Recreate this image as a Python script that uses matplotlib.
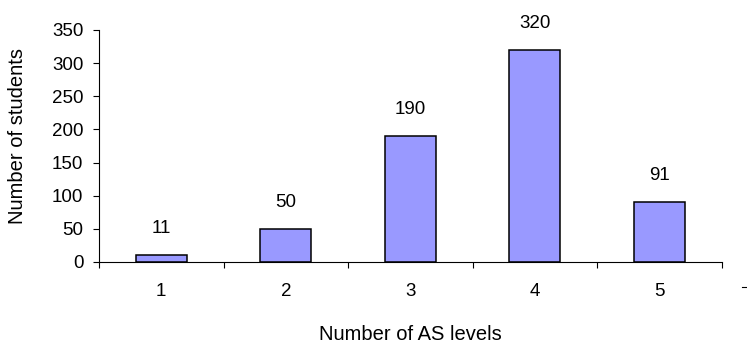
import matplotlib
matplotlib.use('Agg')
import matplotlib.pyplot as plt
from matplotlib.lines import Line2D

plt.rcParams['font.family'] = ['Liberation Sans', 'DejaVu Sans']

# number of AS levels taken vs number of students
levels = [1, 2, 3, 4, 5]
students = [11, 50, 190, 320, 91]
yticks = [0, 50, 100, 150, 200, 250, 300, 350]

fs = 13.5
W, H = 747, 342

fig = plt.figure(figsize=(W / 100, H / 100), dpi=100)
ax = fig.add_axes([99 / W, 80 / H, 622.7 / W, 232 / H])

ax.bar(levels, students, width=0.41, color='#9999FF', edgecolor='black', linewidth=1.1)
for x, v in zip(levels, students):
    ax.annotate(str(v), (x, v), xytext=(0, 19), textcoords='offset points',
                ha='center', va='center', fontsize=fs)

ax.set_xlim(0.5, 5.5)
ax.set_ylim(0, 350)
ax.set_yticks(yticks)
ax.set_xticks(levels)
ax.set_xticks([0.5, 1.5, 2.5, 3.5, 4.5, 5.5], minor=True)
ax.tick_params(axis='x', which='major', length=0, pad=15, labelsize=fs)
ax.tick_params(axis='x', which='minor', length=4.3, width=0.8, direction='out')
ax.tick_params(axis='y', length=4.3, width=0.8, direction='out', pad=7, labelsize=fs)

for s in ['top', 'right']:
    ax.spines[s].set_visible(False)
for s in ['left', 'bottom']:
    ax.spines[s].set_linewidth(0.8)

# axis titles
fig.text(410 / W, 2.5 / H, 'Number of AS levels', fontsize=14.5,
         ha='center', va='baseline')
fig.text(8 / W, 1 - 136 / H, 'Number of students', fontsize=14.5,
         rotation=90, ha='left', va='center')

# small stray dash at the right edge
fig.add_artist(Line2D([742 / W, 747 / W], [1 - 287 / H, 1 - 287 / H],
                      transform=fig.transFigure, color='black', linewidth=0.8))

fig.savefig('out.png', dpi=100)
